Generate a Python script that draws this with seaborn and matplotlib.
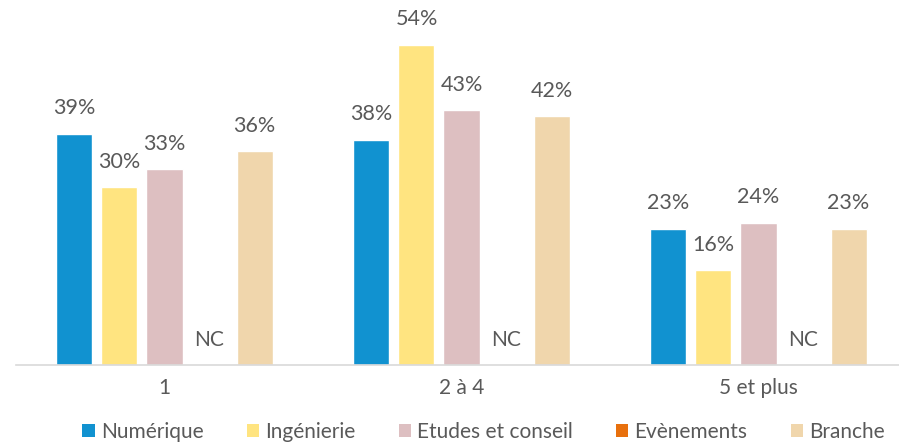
import numpy as np
import pandas as pd
import matplotlib
matplotlib.use("Agg")
import matplotlib.pyplot as plt
import seaborn as sns
from matplotlib.patches import Patch

categories = ["1", "2 à 4", "5 et plus"]
series = ["Numérique", "Ingénierie", "Etudes et conseil", "Evènements", "Branche"]
numerique = [39, 38, 23]
ingenierie = [30, 54, 16]
etudes = [33, 43, 24]
evenements = [np.nan, np.nan, np.nan]
branche = [36, 42, 23]
colors = ["#1192D0", "#FFE480", "#DDBFC1", "#E8700D", "#F0D6AC"]

values = [numerique, ingenierie, etudes, evenements, branche]
rows = []
for s, vals in zip(series, values):
    for c, v in zip(categories, vals):
        rows.append({"cat": c, "serie": s, "val": v})
df = pd.DataFrame(rows)

sns.set_style("white")
plt.rcParams["font.family"] = ["Lato", "DejaVu Sans"]

fig = plt.figure(figsize=(8.99, 4.46), dpi=100)
ax = fig.add_axes([16 / 899, 81 / 446, 891 / 899, 356 / 446])

group_w = 0.758
sns.barplot(data=df, x="cat", y="val", hue="serie", order=categories,
            hue_order=series, palette=colors, width=group_w, gap=0.2,
            saturation=1, legend=False, ax=ax, errorbar=None)

ax.set_ylim(0, 60)
ax.set_xlim(-0.5, 2.5)
ax.set_xlabel("")
ax.set_ylabel("")
ax.set_yticks([])
for sp in ["top", "right", "left"]:
    ax.spines[sp].set_visible(False)
ax.spines["bottom"].set_color("#D9D9D9")
ax.spines["bottom"].set_linewidth(1.2)

ax.set_xticks(range(len(categories)))
ax.set_xticklabels(categories, fontsize=15, color="#595959")
ax.tick_params(axis="x", which="major", length=0, pad=9)
ax.set_xticks([-0.5, 0.5, 1.5, 2.5], minor=True)
ax.tick_params(axis="x", which="minor", length=6, color="#D9D9D9", width=1.2)

slot = group_w / len(series)
for hi, vals in enumerate(values):
    for ci, v in enumerate(vals):
        xc = ci - group_w / 2 + (hi + 0.5) * slot
        if np.isnan(v):
            ax.text(xc, 4.2, "NC", ha="center", va="center", fontsize=15, color="#595959")
        else:
            ax.annotate(f"{int(v)}%", (xc, v), xytext=(0, 11), textcoords="offset points",
                        ha="center", va="bottom", fontsize=15.5, color="#595959")

handles = [Patch(facecolor=c, edgecolor="none") for c in colors]
fig.legend(handles, series, loc="center", bbox_to_anchor=(0.538, 0.031), ncol=5,
           frameon=False, fontsize=15, labelcolor="#595959", handlelength=0.58,
           handleheight=0.58, handletextpad=0.3, columnspacing=2.08)

fig.savefig("out.png", dpi=100)
